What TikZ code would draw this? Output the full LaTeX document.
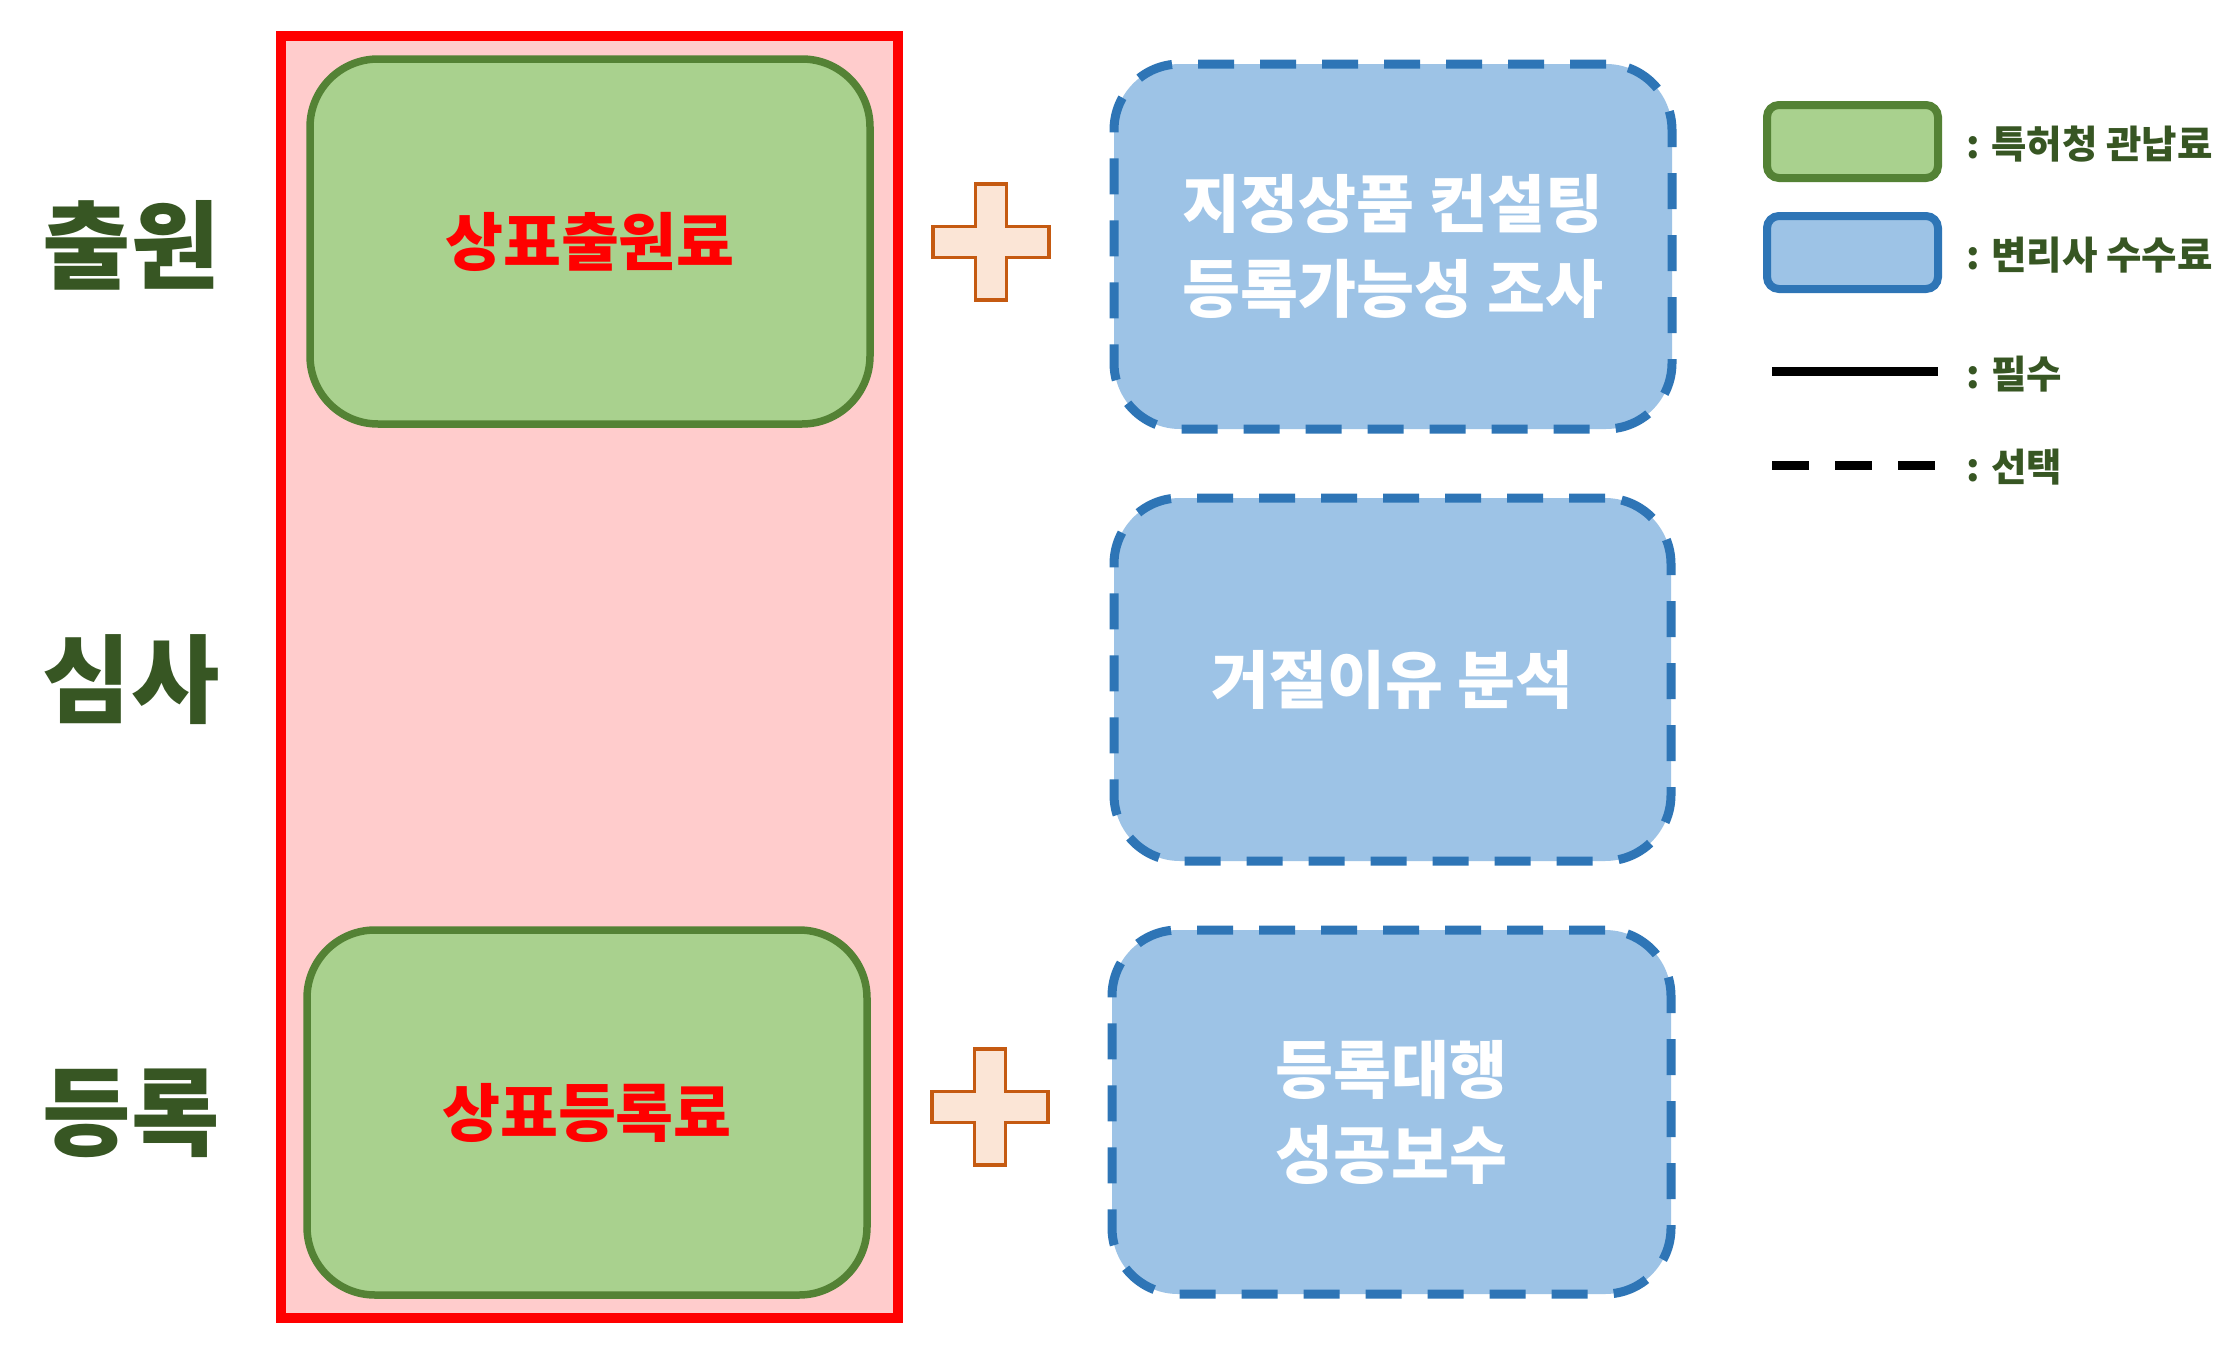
\documentclass[tikz,border=0pt]{standalone}
\usepackage{fontspec}
\setmainfont{Noto Sans CJK KR}
\definecolor{redline}{HTML}{FF0000}
\definecolor{redfill}{HTML}{FFCCCC}
\definecolor{gfill}{HTML}{A9D18E}
\definecolor{gline}{HTML}{548235}
\definecolor{bfill}{HTML}{9DC3E6}
\definecolor{bline}{HTML}{2E75B6}
\definecolor{pline}{HTML}{C55A11}
\definecolor{pfill}{HTML}{FBE5D6}
\definecolor{dgreen}{HTML}{375623}
\tikzset{
  stagelabel/.style={font=\fontsize{96}{110}\selectfont\bfseries, text=dgreen, inner sep=0pt},
  redpanel/.style={draw=redline, fill=redfill, line width=10pt, minimum width=617pt, minimum height=1282pt, inner sep=0pt},
  greenbox/.style={draw=gline, fill=gfill, line width=7.5pt, rounded corners=68pt, minimum width=560pt, minimum height=365pt, font=\fontsize{63}{75}\selectfont\bfseries, text=redline, inner sep=0pt},
  bluebox/.style={fill=bfill, draw=bline, line width=9pt, dash pattern=on 36pt off 26pt, rounded corners=66pt, font=\fontsize{63}{85}\selectfont\bfseries, text=white, align=center, inner sep=0pt},
  legg/.style={draw=gline, fill=gfill, line width=8pt, rounded corners=12pt, minimum width=171pt, minimum height=73pt, inner sep=0pt},
  legb/.style={draw=bline, fill=bfill, line width=8pt, rounded corners=12pt, minimum width=171pt, minimum height=73pt, inner sep=0pt},
  legtext/.style={anchor=west, font=\fontsize{38.5}{42}\selectfont\bfseries, text=dgreen, inner sep=0pt},
  plusstyle/.style={draw=pline, fill=pfill, line width=3.5pt},
  plussign/.pic={\path[plusstyle] (-15.5,-58) -- (15.5,-58) -- (15.5,-15.5) -- (58,-15.5) -- (58,15.5) -- (15.5,15.5) -- (15.5,58) -- (-15.5,58) -- (-15.5,15.5) -- (-58,15.5) -- (-58,-15.5) -- (-15.5,-15.5) -- cycle;}
}
\begin{document}
\begin{tikzpicture}[x=1pt,y=-1pt]
\useasboundingbox[fill=white] (0,0) rectangle (2231,1349);

% stage labels
\node[stagelabel] (l1) at (131,245) {출원};
\node[stagelabel] (l2) at (131,680) {심사};
\node[stagelabel] (l3) at (131,1113) {등록};

% red panel
\node[redpanel] (panel) at (589.5,677) {};

% green boxes
\node[greenbox] (g1) at (590,241.5) {상표출원료};
\node[greenbox] (g2) at (587,1112.5) {상표등록료};

% plus signs
\pic (p1) at (991,242) {plussign};
\pic (p2) at (990,1107) {plussign};

% blue boxes
\node[bluebox, minimum width=558pt, minimum height=365pt] (b1) at (1393,246.5) {지정상품 컨설팅\\등록가능성 조사};
\node[bluebox, minimum width=557pt, minimum height=363pt] (b2) at (1392.5,679.5) {거절이유 분석};
\node[bluebox, minimum width=559pt, minimum height=364pt] (b3) at (1391.5,1112) {등록대행\\성공보수};

% legend
\node[legg] (lg1) at (1852.5,141.5) {};
\node[legb] (lg2) at (1852.5,252.5) {};
\coordinate (s1) at (1772,371);
\coordinate (s2) at (1938,371);
\coordinate (d1) at (1772,465);
\coordinate (d2) at (1938,465);
\draw[line width=9pt, black] (s1) -- (s2);
\draw[line width=9pt, black, dash pattern=on 37pt off 26pt] (d1) -- (d2);
\node[legtext] (t1) at (1966,144) {: 특허청 관납료};
\node[legtext] (t2) at (1966,255) {: 변리사 수수료};
\node[legtext] (t3) at (1966,374) {: 필수};
\node[legtext] (t4) at (1966,467) {: 선택};
\end{tikzpicture}
\end{document}
